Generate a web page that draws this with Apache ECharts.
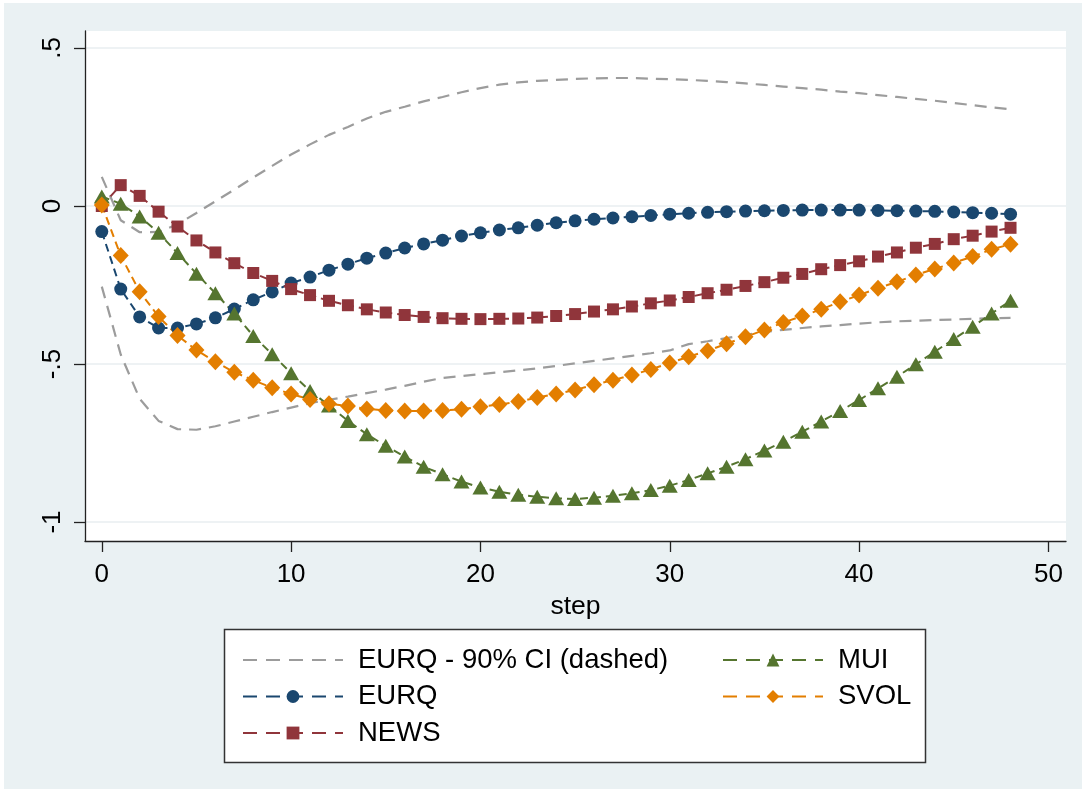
<!DOCTYPE html>
<html>
<head>
<meta charset="utf-8">
<script src="https://cdn.jsdelivr.net/npm/echarts@6/dist/echarts.min.js"></script>
<style>
  html, body { margin: 0; padding: 0; background: #ffffff; }
  #chart { position: absolute; left: 4px; top: 3px; width: 1078px; height: 786px; }
</style>
</head>
<body>
<div id="chart"></div>
<script>
// Impulse responses over 48 steps
const steps = [0,1,2,3,4,5,6,7,8,9,10,11,12,13,14,15,16,17,18,19,20,21,22,23,24,
  25,26,27,28,29,30,31,32,33,34,35,36,37,38,39,40,41,42,43,44,45,46,47,48];

const ciUpper = [0.092,-0.045,-0.083,-0.082,-0.058,-0.022,0.015,0.052,0.090,0.127,
  0.163,0.195,0.225,0.250,0.277,0.298,0.314,0.331,0.345,0.360,0.373,0.384,0.391,0.396,
  0.399,0.402,0.404,0.405,0.405,0.403,0.401,0.399,0.396,0.392,0.388,0.383,0.378,0.373,
  0.368,0.362,0.357,0.351,0.345,0.339,0.333,0.326,0.319,0.312,0.306];

const ciLower = [-0.255,-0.470,-0.610,-0.680,-0.706,-0.708,-0.697,-0.682,-0.667,-0.652,
  -0.638,-0.624,-0.613,-0.603,-0.592,-0.581,-0.569,-0.556,-0.544,-0.538,-0.532,-0.526,
  -0.520,-0.514,-0.506,-0.498,-0.490,-0.482,-0.474,-0.466,-0.457,-0.437,-0.428,-0.418,
  -0.408,-0.398,-0.392,-0.386,-0.381,-0.377,-0.372,-0.368,-0.365,-0.363,-0.361,-0.359,
  -0.357,-0.355,-0.354];

const eurq = [-0.081,-0.263,-0.351,-0.386,-0.386,-0.373,-0.354,-0.326,-0.297,-0.272,
  -0.244,-0.225,-0.203,-0.184,-0.165,-0.149,-0.133,-0.120,-0.108,-0.095,-0.085,-0.076,
  -0.069,-0.061,-0.053,-0.047,-0.042,-0.038,-0.034,-0.030,-0.026,-0.023,-0.020,-0.018,
  -0.016,-0.015,-0.014,-0.013,-0.013,-0.013,-0.013,-0.014,-0.015,-0.016,-0.017,-0.019,
  -0.021,-0.023,-0.026];

const news = [0.000,0.066,0.032,-0.018,-0.065,-0.109,-0.147,-0.181,-0.212,-0.237,
  -0.263,-0.282,-0.300,-0.314,-0.327,-0.337,-0.345,-0.351,-0.355,-0.357,-0.358,-0.357,
  -0.356,-0.353,-0.348,-0.342,-0.334,-0.327,-0.318,-0.308,-0.299,-0.288,-0.276,-0.265,
  -0.253,-0.241,-0.227,-0.215,-0.200,-0.187,-0.175,-0.160,-0.147,-0.132,-0.120,-0.105,
  -0.094,-0.081,-0.069];

const mui = [0.030,0.007,-0.033,-0.085,-0.149,-0.214,-0.276,-0.340,-0.411,-0.469,
  -0.529,-0.585,-0.631,-0.680,-0.722,-0.759,-0.793,-0.825,-0.849,-0.872,-0.891,-0.904,
  -0.914,-0.920,-0.925,-0.927,-0.923,-0.917,-0.909,-0.899,-0.885,-0.867,-0.846,-0.825,
  -0.801,-0.774,-0.746,-0.714,-0.682,-0.649,-0.614,-0.577,-0.540,-0.501,-0.461,-0.421,
  -0.382,-0.340,-0.300];

const svol = [0.003,-0.157,-0.271,-0.350,-0.410,-0.456,-0.493,-0.526,-0.551,-0.575,
  -0.595,-0.612,-0.626,-0.633,-0.642,-0.647,-0.649,-0.649,-0.647,-0.643,-0.635,-0.628,
  -0.619,-0.606,-0.595,-0.582,-0.566,-0.551,-0.535,-0.517,-0.497,-0.477,-0.458,-0.436,
  -0.414,-0.392,-0.369,-0.348,-0.327,-0.303,-0.282,-0.260,-0.240,-0.218,-0.199,-0.180,
  -0.160,-0.137,-0.121];

const xTickValues = [0, 10, 20, 30, 40, 50];
const yTickValues = [-1, -0.5, 0, 0.5];
const yTickLabels = ['-1', '-.5', '0', '.5'];

const CI_NAME = 'EURQ - 90% CI (dashed)';
const FONT = '"Liberation Sans", Arial, sans-serif';

const pairs = vals => steps.map((s, i) => [s, vals[i]]);

function markerSeries(name, vals, color, symbol, size) {
  return {
    name: name,
    type: 'line',
    data: pairs(vals),
    symbol: symbol,
    symbolSize: size,
    showAllSymbol: true,
    itemStyle: { color: color, opacity: 1 },
    lineStyle: { color: color, width: 2, type: [8, 5] },
    emphasis: { disabled: true },
    animation: false
  };
}

// Confidence band edges: plain dashed grey, no markers (transparent item colour
// keeps the legend key to the dashed line only)
function ciSeries(vals) {
  return {
    name: CI_NAME,
    type: 'line',
    data: pairs(vals),
    symbol: 'none',
    itemStyle: { color: 'rgba(0,0,0,0)' },
    lineStyle: { color: '#9c9c9c', width: 2.2, type: [12, 8] },
    emphasis: { disabled: true },
    animation: false
  };
}

const legendText = { color: '#000', fontSize: 27.5, fontFamily: FONT, lineHeight: 27, padding: [0, 0, 0, 10] };
const legendLine = { width: 2, type: [14, 9] };

const chart = echarts.init(document.getElementById('chart'), null, { renderer: 'canvas' });

chart.setOption({
  backgroundColor: '#EAF1F3',
  animation: false,
  grid: {
    left: 81, top: 28, right: 16, bottom: 248,
    show: true, backgroundColor: '#ffffff', borderWidth: 0
  },
  xAxis: {
    type: 'value',
    min: -0.887, max: 50.93,
    name: 'step',
    nameLocation: 'middle',
    nameGap: 45,
    nameTextStyle: { color: '#000', fontSize: 26.5, fontFamily: FONT },
    axisLine: { show: true, onZero: false, lineStyle: { color: '#222', width: 1.3 } },
    axisTick: { show: true, inside: false, length: 11, customValues: xTickValues, lineStyle: { color: '#222', width: 1.3 } },
    axisLabel: { customValues: xTickValues, margin: 21, color: '#000', fontSize: 26, fontFamily: FONT },
    splitLine: { show: false }
  },
  yAxis: {
    type: 'value',
    min: -1.06, max: 0.5537,
    axisLine: { show: true, onZero: false, lineStyle: { color: '#222', width: 1.3 } },
    axisTick: { show: true, inside: false, length: 11, customValues: yTickValues, lineStyle: { color: '#222', width: 1.3 } },
    axisLabel: {
      customValues: yTickValues,
      rotate: 90,
      margin: 19,
      color: '#000', fontSize: 26, fontFamily: FONT,
      formatter: v => {
        const i = yTickValues.findIndex(t => Math.abs(t - v) < 1e-9);
        return i >= 0 ? yTickLabels[i] : '';
      }
    },
    splitLine: { show: true, lineStyle: { color: '#E8EEF1', width: 1.5 } }
  },
  graphic: [{
    type: 'rect',
    shape: { x: 220.5, y: 626.5, width: 701, height: 133 },
    style: { fill: '#ffffff', stroke: '#333333', lineWidth: 1.5 },
    z: 0, silent: true
  }],
  legend: [{
    data: [CI_NAME, 'EURQ', 'NEWS'],
    orient: 'vertical',
    left: 233, top: 638,
    itemWidth: 100, itemHeight: 16, itemGap: 8.5,
    textStyle: legendText,
    lineStyle: legendLine,
    selectedMode: false, z: 5
  }, {
    data: ['MUI', 'SVOL'],
    orient: 'vertical',
    left: 713, top: 638,
    itemWidth: 100, itemHeight: 16, itemGap: 8.5,
    textStyle: legendText,
    lineStyle: legendLine,
    selectedMode: false, z: 5
  }],
  series: [
    ciSeries(ciUpper),
    ciSeries(ciLower),
    markerSeries('EURQ', eurq, '#1A476F', 'circle', 13),
    markerSeries('NEWS', news, '#90353B', 'rect', 12),
    markerSeries('MUI', mui, '#55752F', 'triangle', [16, 14]),
    markerSeries('SVOL', svol, '#E37E00', 'diamond', [16, 17])
  ]
});
</script>
</body>
</html>
